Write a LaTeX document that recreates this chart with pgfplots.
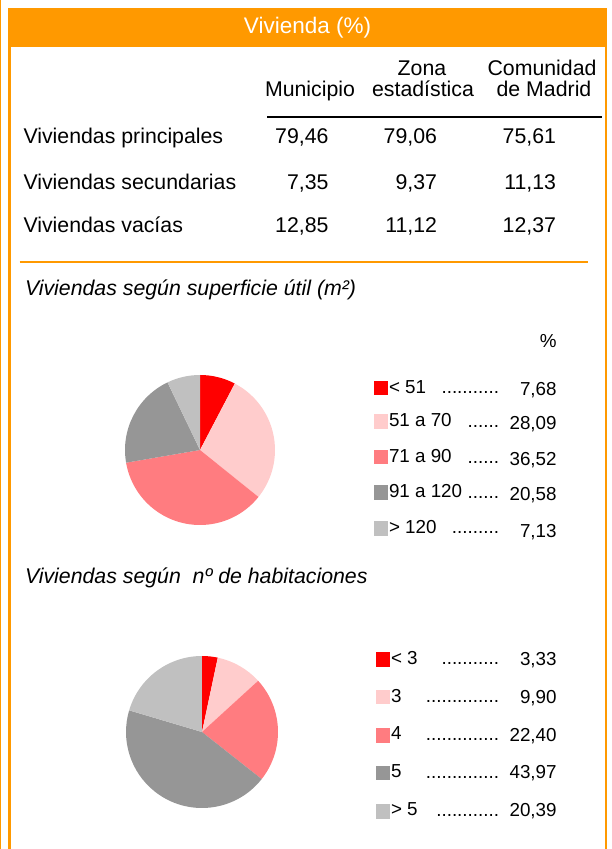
\documentclass[border=0pt]{standalone}
\usepackage{pgfplots}
\pgfplotsset{compat=1.18}
\usepackage{pgfplotstable}
\usepackage{fontspec}
\setmainfont{Liberation Sans}
\definecolor{naranja}{HTML}{FF9900}
\definecolor{pie0}{HTML}{FF0000}
\definecolor{pie1}{HTML}{FFCCCC}
\definecolor{pie2}{HTML}{FF7C80}
\definecolor{pie3}{HTML}{969696}
\definecolor{pie4}{HTML}{C0C0C0}

\pgfplotstableread{
val
7.68
28.09
36.52
20.58
7.13
}\superficie

\pgfplotstableread{
val
3.33
9.90
22.40
43.97
20.39
}\habitaciones

\newcommand{\tf}{\fontsize{21.3}{25}\selectfont}
\newcommand{\lf}{\fontsize{18.8}{22}\selectfont}

% draws a pie from a table column, starting at 12 o'clock, clockwise
\newcommand{\drawpie}[2]{%
  \gdef\cum{0}%
  \pgfplotstableforeachcolumnelement{val}\of#1\as\v{%
    \pgfmathsetmacro\sa{90-3.6*\cum}%
    \pgfmathsetmacro\ea{90-3.6*(\cum+\v)}%
    \edef\temp{\noexpand\fill[pie\pgfplotstablerow] (axis cs:0,0) -- ++(\sa:#2) arc[start angle=\sa, end angle=\ea, radius=#2] -- cycle;}%
    \temp
    \pgfmathsetmacro\newcum{\cum+\v}\xdef\cum{\newcum}%
  }%
}

\begin{document}
\begin{tikzpicture}[every node/.style={inner sep=0pt,outer sep=0pt}]
\useasboundingbox (0pt,0pt) rectangle (612pt,849pt);
% frame
\fill[naranja] (0pt,0pt) rectangle (1.2pt,849pt);
\fill[naranja] (8pt,0pt) rectangle (11pt,841pt);
\fill[naranja] (605pt,0pt) rectangle (607pt,841pt);
\fill[naranja] (8pt,802pt) rectangle (606pt,841pt);
\node[anchor=base,text=white] at (307.5pt,815.7pt) {\fontsize{22.5}{26}\selectfont Vivienda (\%)};

% table header
\node[anchor=base] at (310pt,752pt) {\tf Municipio};
\node[anchor=base] at (422pt,773pt) {\tf Zona};
\node[anchor=base] at (423pt,752pt) {\tf estadística};
\node[anchor=base] at (542pt,773pt) {\tf Comunidad};
\node[anchor=base] at (544pt,752pt) {\tf de Madrid};
\draw[line width=1.8pt] (267pt,732pt) -- (602pt,732pt);

% rows
\node[anchor=base west] at (23.5pt,705pt) {\tf Viviendas principales};
\node[anchor=base west] at (23.5pt,659.5pt) {\tf Viviendas secundarias};
\node[anchor=base west] at (23.5pt,616pt) {\tf Viviendas vacías};
\node[anchor=base east] at (328.5pt,705pt) {\tf 79,46};
\node[anchor=base east] at (437pt,705pt) {\tf 79,06};
\node[anchor=base east] at (556pt,705pt) {\tf 75,61};
\node[anchor=base east] at (328.5pt,659.5pt) {\tf 7,35};
\node[anchor=base east] at (437pt,659.5pt) {\tf 9,37};
\node[anchor=base east] at (556pt,659.5pt) {\tf 11,13};
\node[anchor=base east] at (328.5pt,616pt) {\tf 12,85};
\node[anchor=base east] at (437pt,616pt) {\tf 11,12};
\node[anchor=base east] at (556pt,616pt) {\tf 12,37};
\draw[naranja,line width=2.5pt] (19.5pt,587pt) -- (588pt,587pt);

% section 1
\node[anchor=base west] at (25pt,553pt) {\tf\itshape Viviendas según superficie útil (m²)};
\node[anchor=base east] at (556.6pt,501.7pt) {\lf \%};

\begin{axis}[at={(200pt,399pt)},anchor=center,width=150pt,height=150pt,
  scale only axis,hide axis,xmin=-1,xmax=1,ymin=-1,ymax=1,clip=false]
\drawpie{\superficie}{75pt}
\end{axis}

% legend 1
\fill[pie0] (374pt,453.5pt) rectangle (388pt,468pt);
\fill[pie1] (374pt,420pt) rectangle (388pt,434.7pt);
\fill[pie2] (374pt,384.7pt) rectangle (388pt,399pt);
\fill[pie3] (374pt,349pt) rectangle (388pt,364pt);
\fill[pie4] (374pt,313.3pt) rectangle (388pt,328.3pt);
\node[anchor=base west] at (389pt,455.7pt) {\lf < 51};
\node[anchor=base west] at (389pt,422.3pt) {\lf 51 a 70};
\node[anchor=base west] at (389pt,386.3pt) {\lf 71 a 90};
\node[anchor=base west] at (389pt,351.3pt) {\lf 91 a 120};
\node[anchor=base west] at (389pt,315.7pt) {\lf > 120};
\node[anchor=base east] at (499pt,455pt) {\lf ...........};
\node[anchor=base east] at (499pt,421.5pt) {\lf ......};
\node[anchor=base east] at (499pt,385.5pt) {\lf ......};
\node[anchor=base east] at (499pt,350.5pt) {\lf ......};
\node[anchor=base east] at (499pt,315pt) {\lf .........};
\node[anchor=base east] at (556.6pt,453pt) {\lf 7,68};
\node[anchor=base east] at (556.6pt,419pt) {\lf 28,09};
\node[anchor=base east] at (556.6pt,383pt) {\lf 36,52};
\node[anchor=base east] at (556.6pt,348.3pt) {\lf 20,58};
\node[anchor=base east] at (556.6pt,311.7pt) {\lf 7,13};

% section 2
\node[anchor=base west] at (25pt,265pt) {\tf\itshape Viviendas según\ \ nº de habitaciones};

\begin{axis}[at={(202pt,117pt)},anchor=center,width=152pt,height=152pt,
  scale only axis,hide axis,xmin=-1,xmax=1,ymin=-1,ymax=1,clip=false]
\drawpie{\habitaciones}{76pt}
\end{axis}

% legend 2
\fill[pie0] (376pt,182.3pt) rectangle (390pt,196.7pt);
\fill[pie1] (376pt,145pt) rectangle (390pt,159pt);
\fill[pie2] (376pt,106.3pt) rectangle (390pt,120.7pt);
\fill[pie3] (376pt,69pt) rectangle (390pt,82.7pt);
\fill[pie4] (376pt,30.3pt) rectangle (390pt,44.7pt);
\node[anchor=base west] at (391pt,184.7pt) {\lf < 3};
\node[anchor=base west] at (391pt,146.7pt) {\lf 3};
\node[anchor=base west] at (391pt,109pt) {\lf 4};
\node[anchor=base west] at (391pt,71.3pt) {\lf 5};
\node[anchor=base west] at (391pt,33pt) {\lf > 5};
\node[anchor=base east] at (499pt,184pt) {\lf ...........};
\node[anchor=base east] at (499pt,146pt) {\lf ..............};
\node[anchor=base east] at (499pt,108.3pt) {\lf ..............};
\node[anchor=base east] at (499pt,70.6pt) {\lf ..............};
\node[anchor=base east] at (499pt,32.3pt) {\lf ............};
\node[anchor=base east] at (556.6pt,183pt) {\lf 3,33};
\node[anchor=base east] at (556.6pt,145pt) {\lf 9,90};
\node[anchor=base east] at (556.6pt,107pt) {\lf 22,40};
\node[anchor=base east] at (556.6pt,70.7pt) {\lf 43,97};
\node[anchor=base east] at (556.6pt,32.3pt) {\lf 20,39};
\end{tikzpicture}
\end{document}
